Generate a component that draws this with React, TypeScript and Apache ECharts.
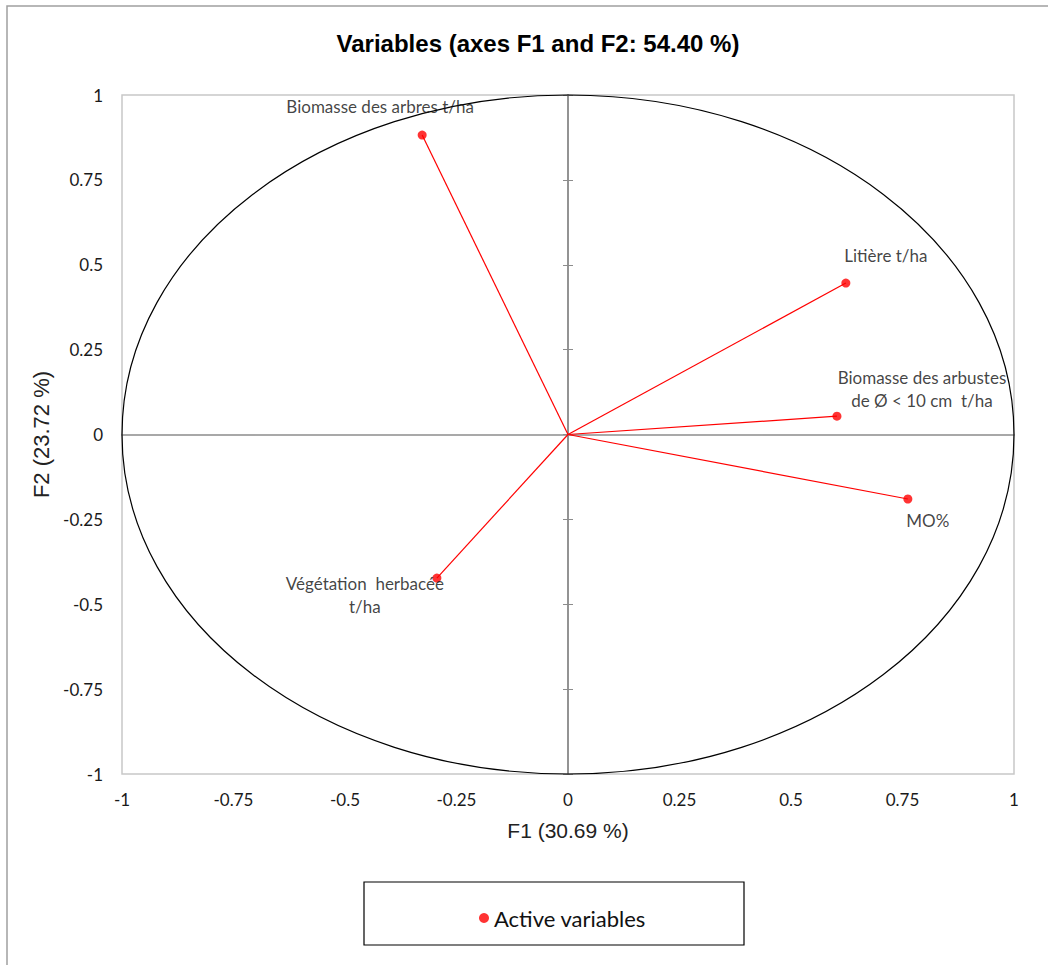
import React, { useEffect, useRef } from "react";
import * as echarts from "echarts";

const variables = [
  "Biomasse des arbres t/ha",
  "Litière t/ha",
  "Biomasse des arbustes\nde Ø < 10 cm  t/ha",
  "MO%",
  "Végétation  herbacée\nt/ha",
];
const f1 = [-0.327, 0.623, 0.603, 0.762, -0.294];
const f2 = [0.882, 0.446, 0.054, -0.19, -0.423];
const labelOffsets = [
  [-42, -29],
  [40, -28],
  [85, -27],
  [20, 21],
  [-72, 17],
];
const axisMin = -1;
const axisMax = 1;
const axisStep = 0.25;
const titleText = "Variables (axes F1 and F2: 54.40 %)";
const xName = "F1 (30.69 %)";
const yName = "F2 (23.72 %)";
const legendName = "Active variables";

export default function App() {
  const ref = useRef<HTMLDivElement>(null);
  useEffect(() => {
    document.body.style.margin = "0";
    const chart = echarts.init(ref.current!, undefined, { renderer: "svg" });
    const tickLabel = { fontFamily: "Lato", fontSize: 17, color: "#1a1a1a" };
    const valueAxisBase = {
      type: "value",
      min: axisMin,
      max: axisMax,
      interval: axisStep,
      splitLine: { show: false },
    };
    const option: any = {
      animation: false,
      backgroundColor: "#fff",
      title: {
        text: titleText,
        left: 533,
        top: 26,
        textAlign: "center",
        textStyle: { fontFamily: "Liberation Sans", fontWeight: "bold", fontSize: 24, color: "#000" },
      },
      grid: {
        left: 122,
        right: 34,
        top: 95,
        bottom: 191,
        show: true,
        borderColor: "#c8c8c8",
        borderWidth: 1.5,
        backgroundColor: "transparent",
      },
      legend: {
        left: 474,
        top: 902,
        icon: "circle",
        itemWidth: 10,
        itemHeight: 10,
        data: [legendName],
        textStyle: { fontFamily: "Lato", fontSize: 22, color: "#111" },
      },
      xAxis: [
        {
          ...valueAxisBase,
          position: "bottom",
          axisLine: { show: false, onZero: false },
          axisTick: { show: false },
          axisLabel: { ...tickLabel, margin: 17 },
          name: xName,
          nameLocation: "middle",
          nameGap: 46,
          nameTextStyle: { fontFamily: "Liberation Sans", fontSize: 21, color: "#222" },
        },
        {
          ...valueAxisBase,
          position: "top",
          axisLine: { show: true, onZero: true, lineStyle: { color: "#8c8c8c", width: 1.5 } },
          axisTick: { show: false },
          axisLabel: { show: false },
        },
      ],
      yAxis: [
        {
          ...valueAxisBase,
          position: "left",
          axisLine: { show: false, onZero: false },
          axisTick: { show: false },
          axisLabel: { ...tickLabel, margin: 19 },
          name: yName,
          nameLocation: "middle",
          nameGap: 67,
          nameTextStyle: { fontFamily: "Liberation Sans", fontSize: 22, color: "#222" },
        },
        {
          ...valueAxisBase,
          position: "left",
          axisLine: { show: true, onZero: true, onZeroAxisIndex: 0, lineStyle: { color: "#8c8c8c", width: 1.5 } },
          axisTick: { show: true, inside: false, length: 5, lineStyle: { color: "#8c8c8c" } },
          axisLabel: { show: false },
        },
        {
          ...valueAxisBase,
          position: "right",
          axisLine: { show: true, onZero: true, onZeroAxisIndex: 0, lineStyle: { color: "#8c8c8c", width: 1.5 } },
          axisTick: { show: true, inside: false, length: 5, lineStyle: { color: "#8c8c8c" } },
          axisLabel: { show: false },
        },
      ],
      series: [
        {
          type: "lines",
          coordinateSystem: "cartesian2d",
          xAxisIndex: 0,
          yAxisIndex: 0,
          silent: true,
          lineStyle: { color: "#ff0000", width: 1.2, opacity: 1, curveness: 0 },
          data: f1.map((x, i) => ({ coords: [[0, 0], [x, f2[i]]] })),
          z: 3,
        },
        {
          type: "scatter",
          name: legendName,
          xAxisIndex: 0,
          yAxisIndex: 0,
          symbol: "circle",
          symbolSize: 9,
          itemStyle: { color: "#ff0000" },
          z: 4,
          data: f1.map((x, i) => ({
            value: [x, f2[i]],
            name: variables[i],
            label: {
              show: true,
              position: "inside",
              offset: labelOffsets[i],
              formatter: variables[i],
              align: "center",
              verticalAlign: "middle",
              fontFamily: "Lato",
              fontSize: 17,
              lineHeight: 23,
              color: "#111",
            },
          })),
        },
      ],
    };
    chart.setOption(option);
    const c = chart.convertToPixel({ xAxisIndex: 0, yAxisIndex: 0 }, [0, 0]) as number[];
    const px = chart.convertToPixel({ xAxisIndex: 0, yAxisIndex: 0 }, [axisMax, 0]) as number[];
    const py = chart.convertToPixel({ xAxisIndex: 0, yAxisIndex: 0 }, [0, axisMax]) as number[];
    chart.setOption({
      graphic: [
        {
          type: "rect",
          shape: { x: 7, y: 6, width: 1100, height: 1000 },
          style: { fill: "none", stroke: "#a0a0a0", lineWidth: 1.5 },
          z: 0,
          silent: true,
        },
        {
          type: "ellipse",
          shape: { cx: c[0], cy: c[1], rx: px[0] - c[0], ry: c[1] - py[1] },
          style: { fill: "none", stroke: "#000", lineWidth: 1.2 },
          z: 2,
          silent: true,
        },
        {
          type: "rect",
          shape: { x: 364, y: 882, width: 380, height: 63 },
          style: { fill: "none", stroke: "#000", lineWidth: 1.2 },
          z: 1,
          silent: true,
        },
      ],
    });
    return () => chart.dispose();
  }, []);
  return (
    <div
      ref={ref}
      style={{ position: "fixed", left: 0, top: 0, width: 1048, height: 965 }}
    />
  );
}
